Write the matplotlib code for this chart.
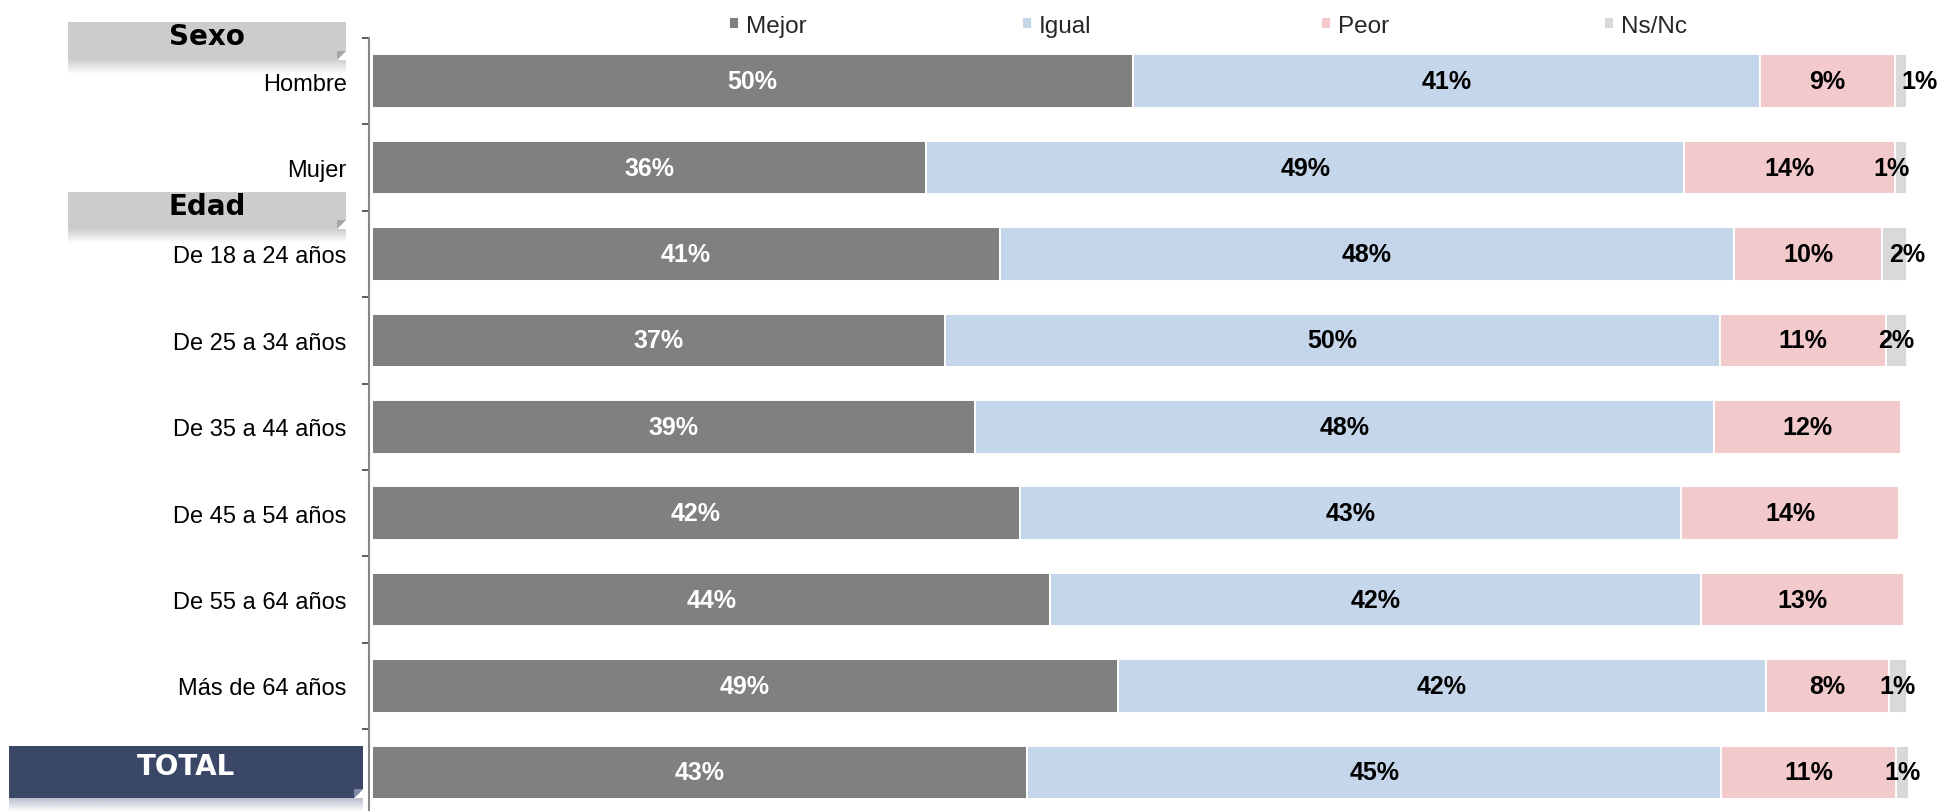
import matplotlib
matplotlib.use("Agg")
import matplotlib.pyplot as plt
import numpy as np
from matplotlib.patches import Rectangle, Polygon

categories = ["Hombre", "Mujer", "De 18 a 24 años", "De 25 a 34 años", "De 35 a 44 años",
              "De 45 a 54 años", "De 55 a 64 años", "Más de 64 años", "TOTAL"]
series_names = ["Mejor", "Igual", "Peor", "Ns/Nc"]
mejor = [49.6, 36.1, 40.9, 37.3, 39.3, 42.2, 44.2, 48.6, 42.7]
igual = [40.8, 49.4, 47.8, 50.5, 48.1, 43.1, 42.4, 42.2, 45.2]
peor = [8.8, 13.7, 9.7, 10.8, 12.2, 14.2, 13.2, 8.0, 11.4]
nsnc = [0.8, 0.8, 1.6, 1.4, 0.0, 0.0, 0.0, 1.2, 0.8]
# text labels shown on the chart
mejor_lbl = ["50%", "36%", "41%", "37%", "39%", "42%", "44%", "49%", "43%"]
igual_lbl = ["41%", "49%", "48%", "50%", "48%", "43%", "42%", "42%", "45%"]
peor_lbl = ["9%", "14%", "10%", "11%", "12%", "14%", "13%", "8%", "11%"]
nsnc_lbl = ["1%", "1%", "2%", "2%", "", "", "", "1%", "1%"]
nsnc_nudge = [1.2, -0.6, 0.8, 0.0, 0, 0, 0, 0.0, 0.0]

colors = ["#808080", "#C5D5EA", "#F2CACB", "#D9D9D9"]
label_colors = ["white", "black", "black", "black"]

W, H = 1939, 812
fig = plt.figure(figsize=(W / 100, H / 100), dpi=100)

def fx(px):
    return px / W

def fy(py):
    return 1 - py / H

row_h = 86.4
ax_top = 39
ax_bot = ax_top + row_h * len(categories)
ax_left = 369
ax = fig.add_axes([fx(ax_left), fy(ax_bot), 1 - fx(ax_left), (ax_bot - ax_top) / H])

px_per = 15.35
x0 = -(372 - ax_left) / px_per
x1 = (W - 372) / px_per
ax.set_xlim(x0, x1)
ax.set_ylim(len(categories) - 0.5, -0.5)

y = np.arange(len(categories))
data = [mejor, igual, peor, nsnc]
labels = [mejor_lbl, igual_lbl, peor_lbl, nsnc_lbl]
left = np.zeros(len(categories))
handles = []
for k, (vals, col) in enumerate(zip(data, colors)):
    vals = np.array(vals)
    b = ax.barh(y, vals, left=left, height=0.62, color=col, edgecolor="white",
                linewidth=1.4, label=series_names[k])
    handles.append(b)
    for i in range(len(categories)):
        txt = labels[k][i]
        if not txt:
            continue
        cx = left[i] + vals[i] / 2
        if k == 3:
            cx += nsnc_nudge[i]
        ax.text(cx, y[i], txt, ha="center", va="center", fontsize=18,
                fontweight="bold", color=label_colors[k], family="Liberation Sans")
    left = left + vals

# axes styling
for s in ["top", "right", "bottom"]:
    ax.spines[s].set_visible(False)
ax.spines["left"].set_color("#868686")
ax.spines["left"].set_linewidth(1.5)
ax.set_xticks([])
ax.set_yticks(y)
ax.set_yticklabels(["" if c == "TOTAL" else c for c in categories],
                   fontsize=17, family="Liberation Sans")
ax.tick_params(axis="y", which="major", length=0, pad=16)
ax.set_yticks(np.arange(-0.5, len(categories), 1.0), minor=True)
ax.tick_params(axis="y", which="minor", length=5, width=1.2, color="#404040")

# legend entries
leg_x = [729, 1022, 1321, 1604]
for h, name, lx in zip(handles, series_names, leg_x):
    lg = fig.legend([h], [name], loc="center left", bbox_to_anchor=(fx(lx), fy(27)),
                    frameon=False, handlelength=0.4, handleheight=0.4,
                    handletextpad=0.3, borderpad=0, borderaxespad=0,
                    prop={"family": "Liberation Sans", "size": 17.5})
    for t in lg.get_texts():
        t.set_color("#262626")

# header boxes
def header(x0p, x1p, y0p, y1p, face, shadow, text, tcolor, ty):
    grad = np.linspace(1, 0, 30)
    sh_ax = fig.add_axes([fx(x0p), fy(y1p + 14), fx(x1p - x0p), 14 / H])
    sh_ax.axis("off")
    base = np.array(matplotlib.colors.to_rgb(shadow))
    img = np.ones((30, 1, 4))
    img[:, 0, :3] = base
    img[:, 0, 3] = grad * 0.55
    sh_ax.imshow(img, aspect="auto", extent=[0, 1, 0, 1], interpolation="bilinear")
    sh_ax.set_zorder(-1)
    fig.patches.append(Rectangle((fx(x0p), fy(y1p)), fx(x1p - x0p), (y1p - y0p) / H,
                                 transform=fig.transFigure, facecolor=face,
                                 edgecolor="none", zorder=1))
    fig.patches.append(Polygon([(fx(x1p), fy(y1p - 9)), (fx(x1p), fy(y1p)),
                                (fx(x1p - 9), fy(y1p))], closed=True,
                               transform=fig.transFigure, facecolor="white",
                               edgecolor="none", zorder=2))
    fig.patches.append(Polygon([(fx(x1p), fy(y1p - 9)), (fx(x1p - 9), fy(y1p)),
                                (fx(x1p - 9), fy(y1p - 9))], closed=True,
                               transform=fig.transFigure, facecolor=shadow,
                               edgecolor="none", zorder=2))
    fig.text(fx((x0p + x1p) / 2), fy(ty), text, ha="center", va="center",
             fontsize=20, fontweight="bold", color=tcolor, family="DejaVu Sans")

header(68, 346, 23, 61, "#CCCCCC", "#A6A6A6", "Sexo", "black", 37)
header(68, 346, 193, 230, "#CCCCCC", "#A6A6A6", "Edad", "black", 207)
header(9, 363, 747, 799, "#3A4767", "#7F8AA6", "TOTAL", "white", 767)

fig.savefig("out.png", dpi=100)
